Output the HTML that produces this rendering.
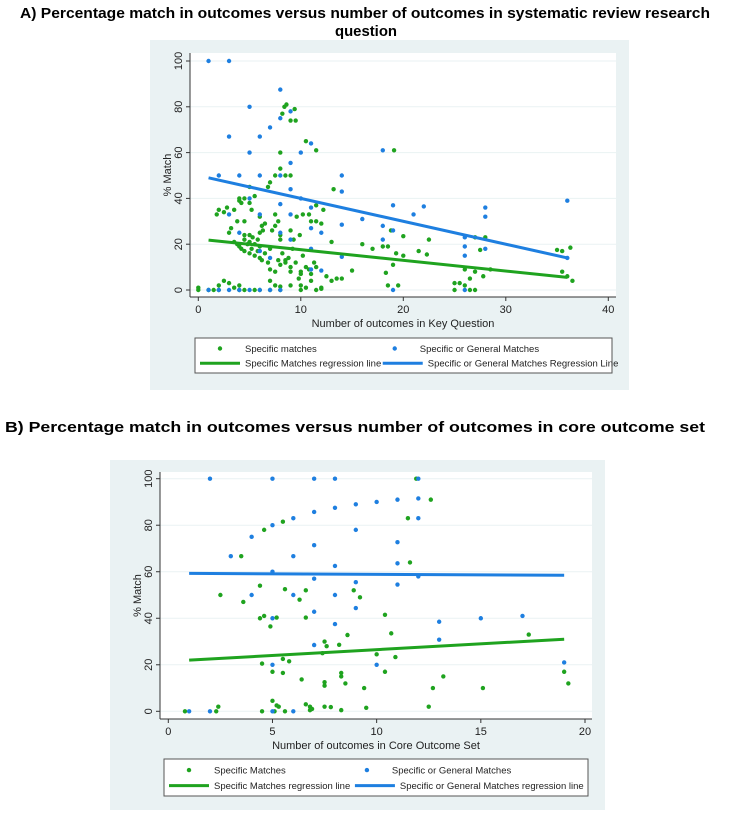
<!DOCTYPE html>
<html><head><meta charset="utf-8"><style>
body{margin:0;background:#fff;width:729px;height:815px;overflow:hidden;font-family:"Liberation Sans",sans-serif}
svg{position:absolute;left:0;top:0}
</style></head><body>
<svg id="s" width="729" height="815">
<text x="20" y="18" font-weight="bold" font-size="15" textLength="690" lengthAdjust="spacingAndGlyphs">A)  Percentage match in outcomes versus number of outcomes in systematic review research</text>
<text x="366" y="36" text-anchor="middle" font-weight="bold" font-size="15" textLength="62" lengthAdjust="spacingAndGlyphs">question</text>
<text x="5" y="432" font-weight="bold" font-size="15" textLength="700" lengthAdjust="spacingAndGlyphs">B)  Percentage match in outcomes versus number of outcomes in core outcome set</text>
</svg>
<script>
// Chart A data
const aBlueX=[1,3,5,3,6,7,8,8,9,5,10,11,18,2,4,6,8,9,14,5,9,8,14,10,11,19,22,21,28,28,36,6,9,3,16,14,18,11,19,12,8,4,9,18,26,26,26,11,28,14,36,6,7,11,12,19,26,1,2,3,4,6,7,8,5];
const aBlueY=[100,100,80,67,67,71,87.5,75,78,60,60,64,61,50,50,50,50,55.5,50,40,44,37.5,43,40,36,37,36.5,33,36,32,39,33,33,33,31,28.5,28,27,26,25,25,25,22,22,23,19,15,18,18,14.5,14,17,14,9,8.5,0,0,0,0,0,0,0,0,0,0];
const aGreenX=[0,0,1,1.5,2,2,2.5,3,3.5,4,4,4.5,5.5,6,7,7,7.5,8,8,9,10,10,10.5,11,11.5,12,12,1.8,2,2.5,2.8,3,3.2,3.5,3.8,4,4,4.2,4.5,4.5,5,5,5.2,5.5,6,6.2,6.5,6.8,7,7.2,7.5,7.5,7.8,8,8,8.2,8.4,8.6,9,9.4,9.5,8.5,9,9.3,9.6,9.9,10,10.2,10.5,10.8,11,11.5,11.5,11.5,12,12.2,13,13.2,14,13.5,13,12.5,15,16,17,18,18.5,18.8,18.3,19,19.1,19.3,18.5,19.5,20,20,21.5,22.3,22.5,25,25,25.5,26,26.5,27,26,26.5,27,27,27.5,27.8,28,28.5,35,35.5,36.3,35.5,36,36.5,3.5,3.8,4,4.2,4.5,4.5,4.8,5,5,5.2,5.3,5.5,5.5,5.8,5.8,6,6,6.2,6.5,6.8,7,7,7.5,7.8,8,8.2,8.5,8.8,9,9,9.2,9.5,9.8,10,10.2,10.5,10.8,11,11.3,11.5,6,6.3,5,4.5,7.5,8,8,8.5,9];
const aGreenY=[1,0,0,0,0,2,4,3,1,2,0,0,0,0,0,4,2,0,1.5,2,2,0,1,4,0,1,0.5,33,35,34,36,25,27,35,30,40,39,38,30,40,38,45,35,41,32,28,29,45,47,26,33,50,30,60,53,77,80,81,74,79,74,50,50,22,32,24,7,33,65,33,30,61,37,30,29,35,21,44,5,5,4,6,8.5,20,18,19,19,26,7.5,11,61,16,2,2,15,23.5,17,15.5,22,0,3,3,2,0,0,9,5,8,23,17.5,6,23,9,17.5,17,18.5,8,6,4,21,20,19,18,22,17,20,21,16,18,23,15,20,17,22,14,19,13,16,12,18,9,8,13,11,16,12,14,10,8,18,12,5,8,15,10,9,7,12,10,25,26,24,24,28,22,24,13,26];
const aLineX=[1,36];
const aBlueLineY=[49,14];
const aGreenLineY=[21.8,5.5];
const aXTicks=[0,10,20,30,40];
const aYTicks=[0,20,40,60,80,100];
// Chart B data
const bBlueX=[1,2,5,6,2,5,7,8,12,7,8,9,10,11,12,12,5,6,4,9,7,3,6,11,8,11,5,12,7,9,11,4,6,8,9,7,5,8,13,13,15,17,7,5,10,19];
const bBlueY=[0,0,0,0,100,100,100,100,100,85.7,87.5,89,90,91,91.5,83,80,83,75,78,71.4,66.7,66.7,72.7,62.5,63.6,60,58,57,55.5,54.5,50,50,50,44.4,42.8,40,37.5,38.5,30.8,40,41,28.5,20,20,21];
const bGreenX=[0.8,2.3,2.4,4.5,5,5.2,5.3,5.1,5.6,6.6,6.8,6.8,6.9,7.5,7.8,8.3,9.5,12.5,2.5,3.5,3.6,4.4,4.6,5.5,4.4,4.6,4.9,5.2,5.6,6.3,6.6,6.6,8.9,9.2,11.5,11.9,12.6,11.6,4.5,5,5.5,5.8,5.5,6.4,7.5,7.6,7.4,7.5,7.5,8.2,8.6,8.3,8.3,8.5,9.4,10,10.4,10.7,10.9,10.4,12.7,13.2,15.1,17.3,19,19.2];
const bGreenY=[0,0,2,0,4.5,2.5,2,0,0,3,2,0.5,1,2,1.8,0.5,1.5,2,50,66.7,47,54,78,81.5,40,41,36.5,40.3,52.5,48,52,40.3,52,49,83,100,91,64,20.5,17,22.5,21.5,16.5,13.7,30,28,25,12.5,11,28.6,32.8,15,16.5,12,10,24.5,41.5,33.5,23.3,17,10,15,10,33,17,12];
const bLineX=[1,19];
const bBlueLineY=[59.3,58.5];
const bGreenLineY=[22,31];
const bXTicks=[0,5,10,15,20];
const bYTicks=[0,20,40,60,80,100];

const NS='http://www.w3.org/2000/svg';
const svg=document.getElementById('s');
const GREEN='#1fa31f', BLUE='#1e7fe0';
function mk(tag,attrs,parent){const e=document.createElementNS(NS,tag);for(const k in attrs)e.setAttribute(k,attrs[k]);(parent||svg).appendChild(e);return e;}

function chart(c){
  const g=mk('g',{});
  
  
  const bg=mk('rect',{x:c.px,y:c.py,width:c.pw,height:c.ph,fill:'#eaf2f3'},g);
  
  
  const pa=mk('rect',{x:c.l,y:c.t,width:c.r-c.l,height:c.b-c.t,fill:'#fff'},g);
  
  
  const sx=v=>c.x0px+(v-c.xmin)*(c.x1px-c.x0px)/(c.xmax-c.xmin);
  const sy=v=>c.y0px-(v)*(c.y0px-c.y100px)/100;
  c.yt.forEach(t=>{
    const gl=mk('line',{x1:c.l,x2:c.r,y1:sy(t),y2:sy(t),stroke:'#eaf2f3','stroke-width':1},g);
    
    
    mk('line',{x1:c.l-4,x2:c.l,y1:sy(t),y2:sy(t),stroke:'#333'},g);
    const tx=mk('text',{x:0,y:0,'font-size':11,'text-anchor':'middle',fill:'#222',transform:`translate(${c.l-8},${sy(t)}) rotate(-90)`},g);
    tx.textContent=t;
    
    
  });
  c.xt.forEach(t=>{
    mk('line',{x1:sx(t),x2:sx(t),y1:c.b,y2:c.b+4,stroke:'#333'},g);
    const tx=mk('text',{x:sx(t),y:c.b+16,'font-size':11,'text-anchor':'middle',fill:'#222'},g);
    tx.textContent=t;
    
    
  });
  mk('line',{x1:c.l,x2:c.l,y1:c.t,y2:c.b,stroke:'#333'},g);
  mk('line',{x1:c.l,x2:c.r,y1:c.b,y2:c.b,stroke:'#333'},g);
  const xt=mk('text',{x:(c.l+c.r)/2,y:c.b+30,'font-size':11,'text-anchor':'middle',fill:'#222'},g);
  xt.textContent=c.xtitle;
  
  
  const yt=mk('text',{x:0,y:0,'font-size':11,'text-anchor':'middle',fill:'#222',transform:`translate(${c.l-19},${(c.t+c.b)/2}) rotate(-90)`},g);
  yt.textContent='% Match';
  
  
  c.gx.forEach((v,i)=>{const d=mk('circle',{cx:sx(v),cy:sy(c.gy[i]),r:2.2,fill:GREEN},g);
    
    });
  c.bx.forEach((v,i)=>{const d=mk('circle',{cx:sx(v),cy:sy(c.by[i]),r:2.2,fill:BLUE},g);
    
    });
  const ln1=mk('line',{x1:sx(c.lx[0]),x2:sx(c.lx[1]),y1:sy(c.gl[0]),y2:sy(c.gl[1]),stroke:GREEN,'stroke-width':3},g);
  
  
  const ln2=mk('line',{x1:sx(c.lx[0]),x2:sx(c.lx[1]),y1:sy(c.bl[0]),y2:sy(c.bl[1]),stroke:BLUE,'stroke-width':3},g);
  
  
  const L=c.leg;
  const lb=mk('rect',{x:L.x,y:L.y,width:L.w,height:L.h,fill:'#fff',stroke:'#555','stroke-width':1},g);
  
  
  const half=L.x+L.w*0.455;
  const r1=L.y+L.h*0.3, r2=L.y+L.h*0.72;
  [[L.x+25,r1,GREEN,'dot',c.labels[0]],[half+10,r1,BLUE,'dot',c.labels[1]],[L.x+5,r2,GREEN,'line',c.labels[2]],[half-2,r2,BLUE,'line',c.labels[3]]].forEach(e=>{
    if(e[3]==='dot') mk('circle',{cx:e[0],cy:e[1],r:2.2,fill:e[2]},g);
    else mk('line',{x1:e[0],x2:e[0]+40,y1:e[1],y2:e[1],stroke:e[2],'stroke-width':3},g);
    const tx=mk('text',{x:(e[3]==='dot'?e[0]+25:e[0]+45),y:e[1]+3.5,'font-size':9.5,fill:'#222'},g);
    tx.textContent=e[4];
    
    
  });
}
chart({id:'chart-a',px:150,py:40,pw:479,ph:350,l:190,r:616,t:53,b:297,x0px:198.3,x1px:608.3,xmin:0,xmax:40,y0px:290,y100px:61,
  xt:aXTicks,yt:aYTicks,xtitle:'Number of outcomes in Key Question',gx:aGreenX,gy:aGreenY,bx:aBlueX,by:aBlueY,lx:aLineX,gl:aGreenLineY,bl:aBlueLineY,
  leg:{x:195,y:338,w:417,h:35},labels:['Specific matches','Specific or General Matches','Specific Matches regression line','Specific or General Matches Regression Line']});
chart({id:'chart-b',px:110,py:460,pw:495,ph:350,l:160,r:592,t:472,b:719,x0px:168.3,x1px:585,xmin:0,xmax:20,y0px:711.3,y100px:478.7,
  xt:bXTicks,yt:bYTicks,xtitle:'Number of outcomes in Core Outcome Set',gx:bGreenX,gy:bGreenY,bx:bBlueX,by:bBlueY,lx:bLineX,gl:bGreenLineY,bl:bBlueLineY,
  leg:{x:164,y:759,w:424,h:37},labels:['Specific Matches','Specific or General Matches','Specific Matches regression line','Specific or General Matches regression line']});
</script>
</body></html>
